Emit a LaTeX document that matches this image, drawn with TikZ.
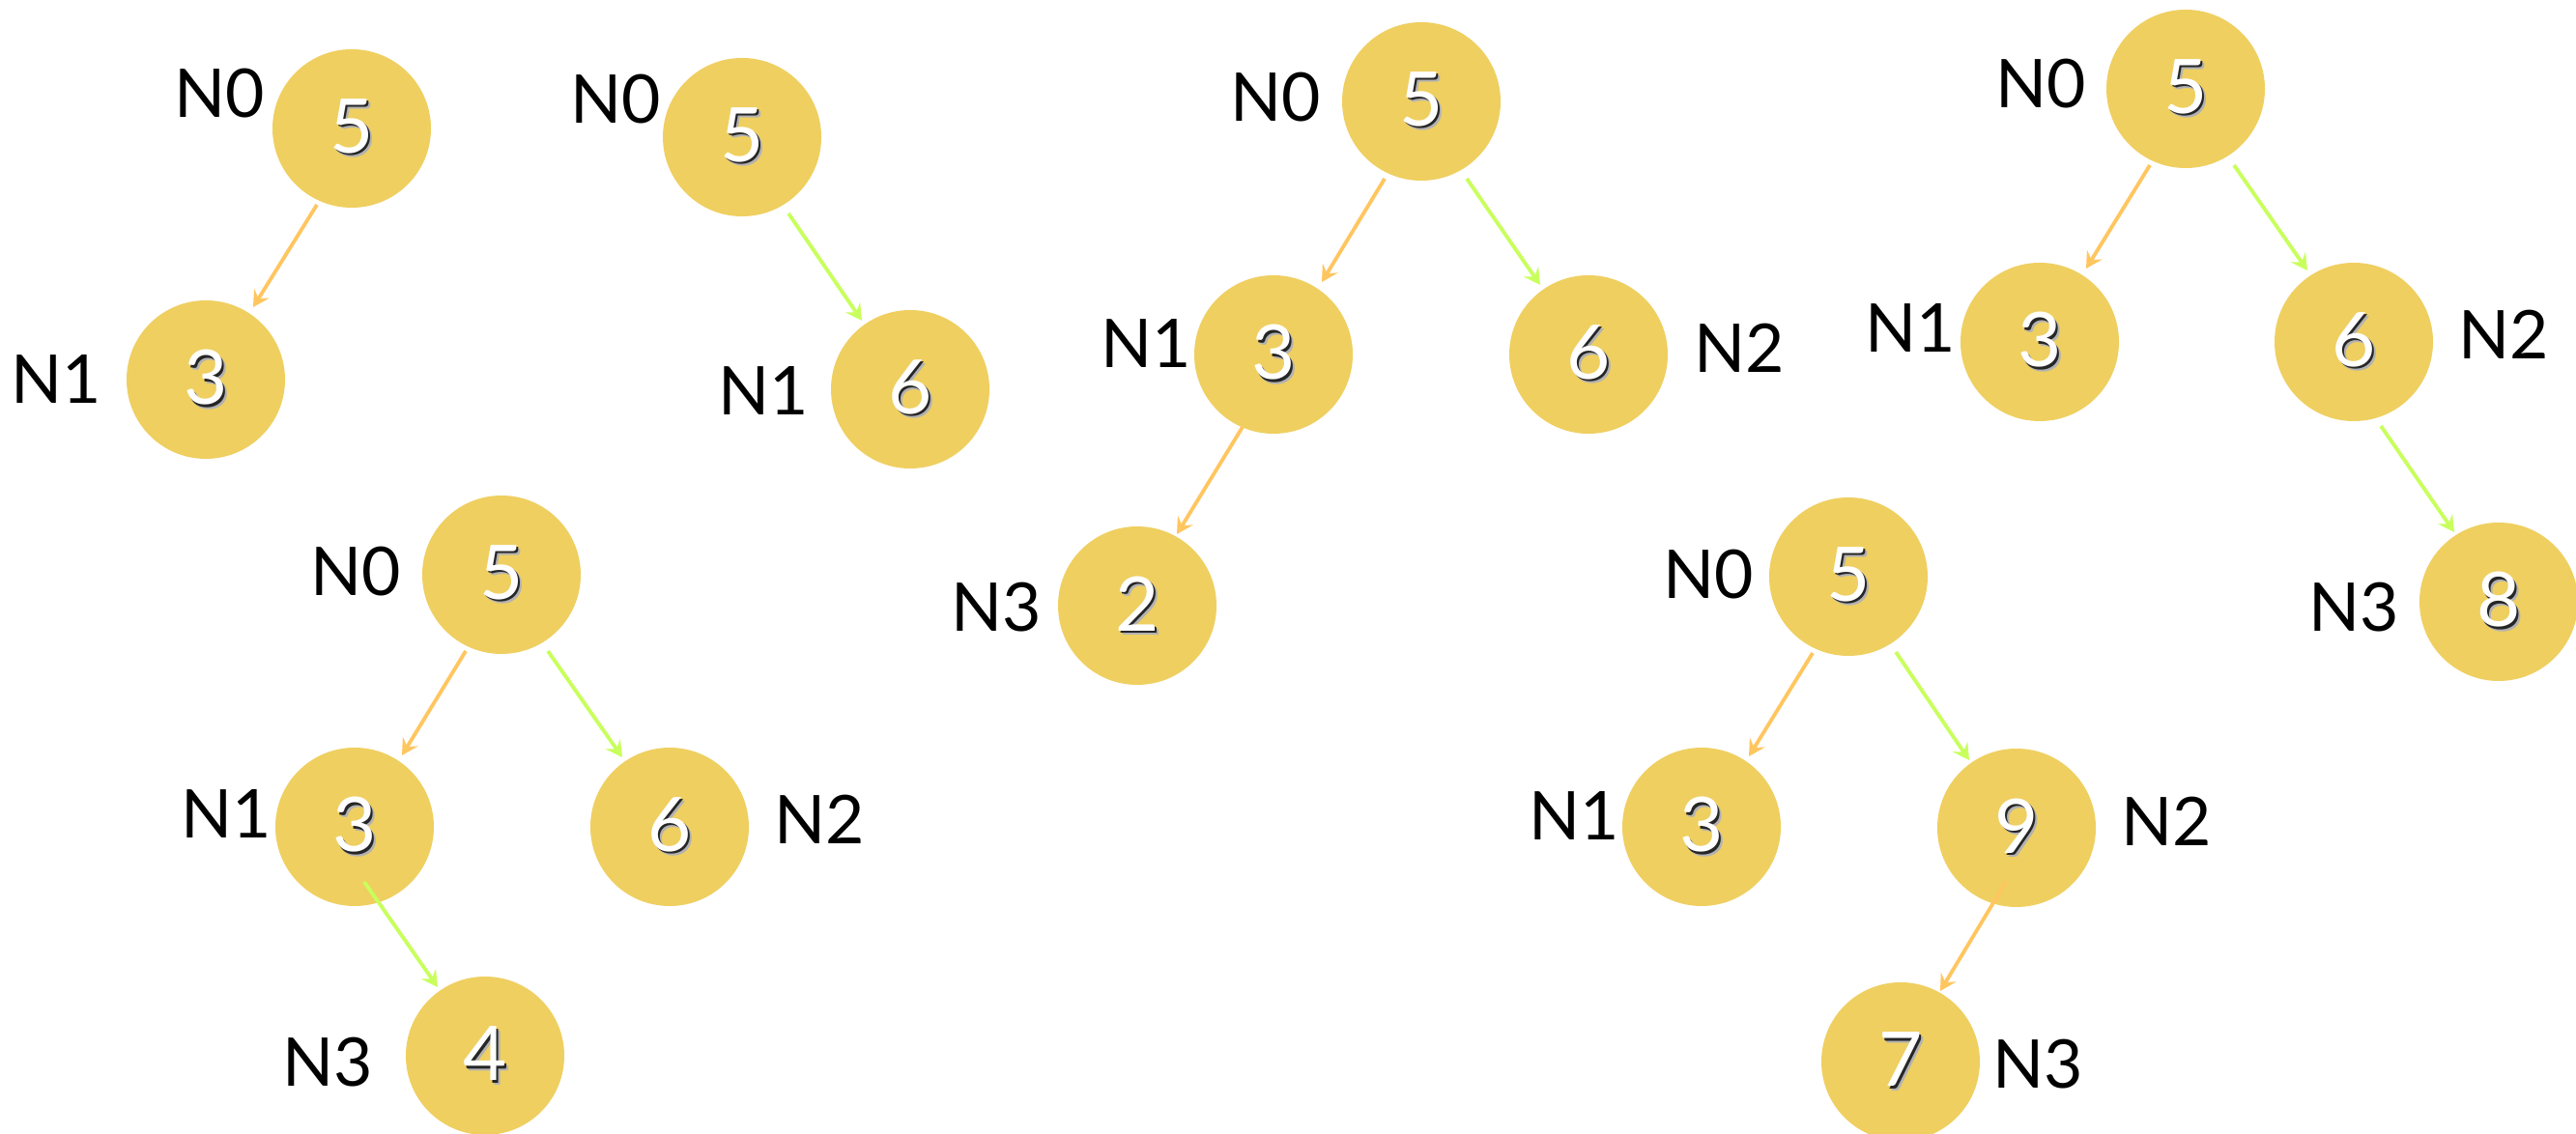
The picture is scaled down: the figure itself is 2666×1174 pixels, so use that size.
\documentclass[tikz,border=0pt]{standalone}
\usepackage{fontspec}
\setmainfont{Lato}
\usetikzlibrary{arrows.meta,calc}
\definecolor{ballc}{HTML}{EFCF60}
\definecolor{lftc}{HTML}{FFC660}
\definecolor{rgtc}{HTML}{C8FF5C}
\newcommand{\dig}[1]{\makebox[0pt][l]{\kern1.1pt\raisebox{-1.1pt}{\textcolor{black!30}{#1}}}\makebox[0pt][l]{\kern0.6pt\raisebox{-0.6pt}{\textcolor{black!85}{#1}}}\textcolor{white}{#1}}
\begin{document}
\begin{tikzpicture}[x=0.25pt,y=-0.25pt,
  ball/.style={circle,fill=ballc,minimum size=41pt,inner sep=0pt,font=\fontsize{19.5}{20}\selectfont},
  lab/.style={font=\fontsize{17.4}{18}\selectfont,inner sep=0pt},
  la/.style={draw=lftc,line width=0.95pt,-{Stealth[length=4.2pt,width=4.6pt,inset=1.6pt]}},
  ra/.style={draw=rgtc,line width=0.95pt,-{Stealth[length=4.2pt,width=4.6pt,inset=1.6pt]}}]
\useasboundingbox (0,0) rectangle (2666,1174);
\clip (0,0) rectangle (2666,1174);
\fill[white] (0,0) rectangle (2666,1174);
% Tree A
\node[ball] (A0) at (364,133) {\dig{5}};
\node[ball] (A1) at (213,393) {\dig{3}};
\node[lab] (A0l) at (227,97) {N0};
\node[lab] (A1l) at (58,393) {N1};
\draw[la] ($(A0)+(-36,79)$) -- ($(A1)+(49,-75)$);
% Tree B
\node[ball] (B0) at (768,142) {\dig{5}};
\node[ball] (B1) at (942,403) {\dig{6}};
\node[lab] (B0l) at (637,103) {N0};
\node[lab] (B1l) at (790,405) {N1};
\draw[ra] ($(B0)+(48,79)$) -- ($(B1)+(-50,-71)$);
% Tree C
\node[ball] (C0) at (1471,105) {\dig{5}};
\node[ball] (C1) at (1318,367) {\dig{3}};
\node[ball] (C2) at (1644,367) {\dig{6}};
\node[ball] (C3) at (1177,627) {\dig{2}};
\node[lab] (C0l) at (1320,101) {N0};
\node[lab] (C1l) at (1186,356) {N1};
\node[lab] (C2l) at (1800,360) {N2};
\node[lab] (C3l) at (1031,629) {N3};
\draw[la] ($(C0)+(-38,80)$) -- ($(C1)+(50,-75)$);
\draw[ra] ($(C0)+(47,80)$) -- ($(C2)+(-50,-72)$);
\draw[la] ($(C1)+(-32,75)$) -- ($(C3)+(41,-74)$);
% Tree D
\node[ball] (D0) at (2262,92) {\dig{5}};
\node[ball] (D1) at (2111,354) {\dig{3}};
\node[ball] (D2) at (2436,354) {\dig{6}};
\node[ball] (D3) at (2586,623) {\dig{8}};
\node[lab] (D0l) at (2112,87) {N0};
\node[lab] (D1l) at (1977,340) {N1};
\node[lab] (D2l) at (2591,346) {N2};
\node[lab] (D3l) at (2436,629) {N3};
\draw[la] ($(D0)+(-37,79)$) -- ($(D1)+(48,-76)$);
\draw[ra] ($(D0)+(50,79)$) -- ($(D2)+(-48,-74)$);
\draw[ra] ($(D2)+(28,87)$) -- ($(D3)+(-46,-72)$);
% Tree E
\node[ball] (E0) at (519,595) {\dig{5}};
\node[ball] (E1) at (367,856) {\dig{3}};
\node[ball] (E2) at (693,856) {\dig{6}};
\node[ball] (E3) at (502,1093) {\dig{4}};
\node[lab] (E0l) at (368,592) {N0};
\node[lab] (E1l) at (234,843) {N1};
\node[lab] (E2l) at (848,848) {N2};
\node[lab] (E3l) at (339,1100) {N3};
\draw[la] ($(E0)+(-37,79)$) -- ($(E1)+(49,-74)$);
\draw[ra] ($(E0)+(48,79)$) -- ($(E2)+(-49,-72)$);
\draw[ra] ($(E1)+(10,57)$) -- ($(E3)+(-49,-71)$);
% Tree F
\node[ball] (F0) at (1913,597) {\dig{5}};
\node[ball] (F1) at (1761,856) {\dig{3}};
\node[ball] (F2) at (2087,857) {\dig{9}};
\node[ball] (F3) at (1967,1099) {\dig{7}};
\node[lab] (F0l) at (1768,595) {N0};
\node[lab] (F1l) at (1629,845) {N1};
\node[lab] (F2l) at (2242,850) {N2};
\node[lab] (F3l) at (2109,1102) {N3};
\draw[la] ($(F0)+(-37,79)$) -- ($(F1)+(49,-73)$);
\draw[ra] ($(F0)+(49,78)$) -- ($(F2)+(-49,-70)$);
\draw[la] ($(F2)+(-11,56)$) -- ($(F3)+(41,-73)$);
\end{tikzpicture}
\end{document}
